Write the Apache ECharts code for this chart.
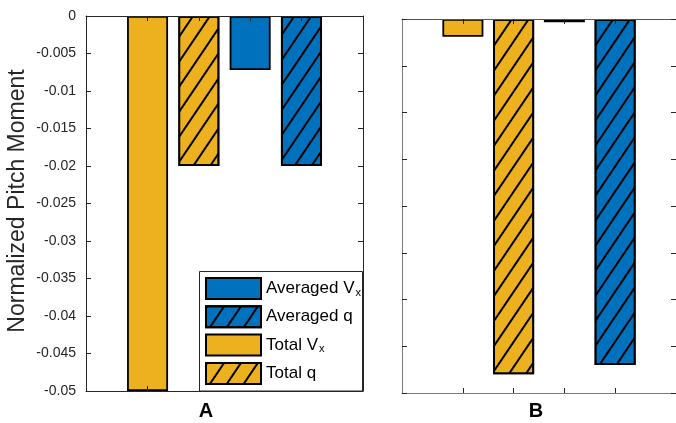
<!DOCTYPE html>
<html><head><meta charset="utf-8">
<script src="https://cdn.jsdelivr.net/npm/echarts@6/dist/echarts.min.js"></script>
<style>html,body{margin:0;padding:0;background:#fff}#c{width:676px;height:423px}</style>
</head><body><div id="c"></div>
<script>
// ---- data ----
const seriesNames = ['Total Vx', 'Total q', 'Averaged Vx', 'Averaged q'];
const xPositions = [1, 2, 3, 4];
const panelA = [-0.05, -0.02, -0.0072, -0.02];
const panelB = [-0.00038, -0.0076, -0.00007, -0.0074];
const hatched = [false, true, false, true];
const barColors = ['#EDB120', '#EDB120', '#0072BD', '#0072BD'];
const legendOrder = ['Averaged Vx', 'Averaged q', 'Total Vx', 'Total q'];
const panelLabels = ['A', 'B'];
const yTickLabelsA = ['0', '-0.005', '-0.01', '-0.015', '-0.02', '-0.025', '-0.03', '-0.035', '-0.04', '-0.045', '-0.05'];
const yAxisTitle = 'Normalized Pitch Moment';

const FONT = 'Liberation Sans, Arial, Helvetica, sans-serif';
const chart = echarts.init(document.getElementById('c'), null, {renderer: 'canvas'});

const hatchDecal = {
  symbol: 'rect', symbolSize: 1,
  dashArrayX: [1, 0], dashArrayY: [1.5, 11.5],
  rotation: -56 * Math.PI / 180, color: '#000'
};

function xAxes(gi, pos, lineColor) {
  return {
    type: 'value', gridIndex: gi, position: pos, min: -0.2, max: 5.2, z: 5,
    axisLine: {show: true, onZero: false, lineStyle: {color: lineColor, width: 1}},
    axisTick: {show: true, inside: true, length: 5, customValues: xPositions, lineStyle: {color: '#262626'}},
    axisLabel: {show: false}, splitLine: {show: false}
  };
}
function yAxes(gi, pos, min, interval, showLabels, lineColor) {
  return {
    type: 'value', gridIndex: gi, position: pos, min: min, max: 0, interval: interval, z: 5,
    axisLine: {show: true, onZero: false, lineStyle: {color: lineColor, width: 1}},
    axisTick: {show: true, inside: true, length: 5, lineStyle: {color: '#262626'}},
    axisLabel: {show: showLabels, margin: 10, color: '#262626', fontSize: 14, fontFamily: FONT,
      formatter: v => { const i = Math.round(-v / 0.005); return yTickLabelsA[i] !== undefined ? yTickLabelsA[i] : String(v); }},
    splitLine: {show: false}
  };
}

const series = [];
[panelA, panelB].forEach((vals, gi) => {
  seriesNames.forEach((name, k) => {
    const itemStyle = {color: barColors[k], borderColor: '#000', borderWidth: 1.8};
    if (hatched[k]) itemStyle.decal = hatchDecal;
    series.push({
      name: name, type: 'bar', xAxisIndex: gi * 2, yAxisIndex: gi * 2,
      barWidth: 41, barGap: '-100%', z: 2,
      itemStyle: itemStyle,
      emphasis: {disabled: true},
      data: [[xPositions[k], vals[k]]]
    });
  });
});

const legendFmt = name => {
  if (/ Vx$/.test(name)) return '{a|' + name.slice(0, -1) + '}{s|x}';
  return '{a|' + name + '}';
};

chart.setOption({
  animation: false,
  grid: [
    {left: 86, top: 16, width: 277, height: 375},
    {left: 402, top: 19, width: 277, height: 374}
  ],
  xAxis: [xAxes(0, 'bottom', '#262626'), xAxes(0, 'top', '#262626'),
          xAxes(1, 'bottom', '#7a7a7a'), xAxes(1, 'top', '#555')],
  yAxis: [yAxes(0, 'left', -0.05, 0.005, true, '#262626'), yAxes(0, 'right', -0.05, 0.005, false, '#262626'),
          yAxes(1, 'left', -0.008, 0.001, false, '#7a7a7a'), yAxes(1, 'right', -0.008, 0.001, false, '#7a7a7a')],
  legend: {
    data: legendOrder, orient: 'vertical', left: 200, top: 272, padding: 5, z: 10,
    itemWidth: 55, itemHeight: 21, itemGap: 5.3, icon: 'rect', selectedMode: false,
    formatter: legendFmt,
    textStyle: {color: '#000', fontFamily: FONT, fontSize: 17,
      rich: {a: {fontSize: 17, fontFamily: FONT, color: '#000', lineHeight: 19},
             s: {fontSize: 11, fontFamily: FONT, color: '#000', lineHeight: 11, padding: [8, 0, 0, 1]}}}
  },
  graphic: [
    {type: 'rect', z: 8, shape: {x: 199.5, y: 271.5, width: 163, height: 119.5},
     style: {fill: '#fff', stroke: '#262626', lineWidth: 1}},
    {type: 'text', z: 10, x: 18, y: 201, rotation: Math.PI / 2,
     style: {text: yAxisTitle, fontSize: 23, fontFamily: FONT, fill: '#262626', textAlign: 'center', textVerticalAlign: 'middle'}},
    {type: 'text', z: 10, x: 206, y: 411,
     style: {text: panelLabels[0], fontSize: 20, fontWeight: 'bold', fontFamily: FONT, fill: '#000', textAlign: 'center', textVerticalAlign: 'middle'}},
    {type: 'text', z: 10, x: 536, y: 411,
     style: {text: panelLabels[1], fontSize: 20, fontWeight: 'bold', fontFamily: FONT, fill: '#000', textAlign: 'center', textVerticalAlign: 'middle'}}
  ],
  series: series
});
</script>
</body></html>
